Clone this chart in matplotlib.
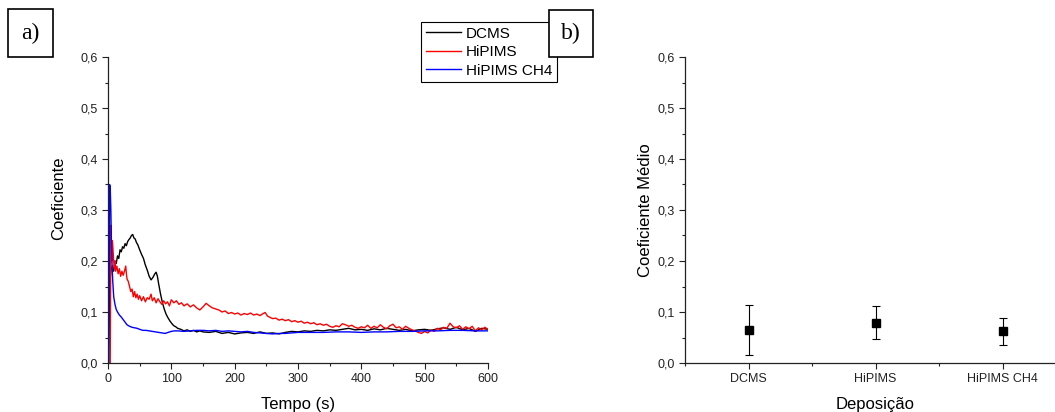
import matplotlib
matplotlib.use("Agg")
import matplotlib.pyplot as plt
from matplotlib.patches import Rectangle
from matplotlib.ticker import MultipleLocator, FuncFormatter

# --- data -------------------------------------------------------------------
dcms_t = [0, 3, 5, 7, 9, 11, 13, 15, 17, 19, 21, 23, 25, 27, 29, 31, 33, 35, 37,
          39, 41, 43, 45, 47, 50, 53, 56, 59, 62, 65, 68, 71, 74, 76, 78, 80, 83,
          86, 89, 92, 95, 98, 101, 104, 107, 110, 115, 120, 125, 130, 135, 140,
          145, 150, 160, 170, 180, 190, 200, 210, 220, 230, 240, 250, 260, 270,
          280, 290, 300, 310, 320, 330, 340, 350, 360, 370, 380, 390, 400, 410,
          420, 430, 440, 450, 460, 470, 480, 490, 500, 510, 520, 530, 540, 550,
          560, 570, 580, 590, 600]
dcms_v = [0.0, 0.16, 0.185, 0.19, 0.18, 0.2, 0.195, 0.21, 0.205, 0.222, 0.218,
          0.228, 0.225, 0.234, 0.23, 0.238, 0.242, 0.245, 0.25, 0.252, 0.245,
          0.243, 0.236, 0.232, 0.222, 0.213, 0.205, 0.192, 0.182, 0.17, 0.163,
          0.168, 0.175, 0.178, 0.17, 0.155, 0.135, 0.118, 0.105, 0.095, 0.088,
          0.082, 0.077, 0.073, 0.071, 0.068, 0.066, 0.063, 0.065, 0.062, 0.064,
          0.061, 0.063, 0.061, 0.06, 0.062, 0.058, 0.06, 0.057, 0.059, 0.06,
          0.058, 0.061, 0.058, 0.059, 0.057, 0.06, 0.062, 0.061, 0.063, 0.062,
          0.064, 0.063, 0.065, 0.064, 0.066, 0.068, 0.065, 0.066, 0.064, 0.067,
          0.065, 0.068, 0.066, 0.064, 0.066, 0.063, 0.065, 0.066, 0.064, 0.067,
          0.069, 0.066, 0.07, 0.065, 0.068, 0.062, 0.068, 0.066]

hipims_t = [3.5, 4.5, 6, 7, 8, 9, 10, 11, 12, 14, 16, 18, 20, 22, 24, 26, 28, 29,
            30, 32, 34, 36, 38, 40, 42, 44, 46, 48, 50, 53, 56, 59, 62, 65, 68,
            70, 73, 76, 79, 82, 85, 88, 91, 94, 97, 100, 104, 108, 112, 116, 120,
            125, 130, 135, 140, 145, 150, 155, 160, 165, 170, 175,
            180, 185, 190, 195, 200, 205, 210, 215, 220, 225, 230, 235, 240, 245,
            248, 252, 255, 260, 265, 270, 275, 280, 285, 290, 295, 300, 305, 310,
            315, 320, 325, 330, 335, 340, 345, 350, 355, 360, 365, 370, 375, 380,
            385, 390, 395, 400, 405, 410, 415, 420, 425, 430, 435, 440, 445, 450,
            455, 460, 465, 470, 475, 480, 485, 490, 495, 500, 505, 510, 515, 520,
            525, 530, 535, 540, 545, 550, 555, 560, 565, 570, 575, 580, 585, 590,
            595, 600]
hipims_v = [0.0, 0.27, 0.2, 0.24, 0.22, 0.2, 0.185, 0.2, 0.18, 0.19, 0.175, 0.185,
            0.17, 0.18, 0.172, 0.18, 0.19, 0.175, 0.165, 0.16, 0.15, 0.14, 0.145,
            0.13, 0.14, 0.128, 0.135, 0.125, 0.132, 0.122, 0.13, 0.12, 0.128,
            0.125, 0.135, 0.122, 0.128, 0.118, 0.126, 0.12, 0.115, 0.122, 0.116,
            0.12, 0.112, 0.124, 0.118, 0.122, 0.115, 0.118, 0.112, 0.116, 0.11,
            0.114, 0.108, 0.104, 0.11, 0.117, 0.112, 0.108, 0.106, 0.104,
            0.1, 0.102, 0.097, 0.099, 0.096, 0.098, 0.094, 0.097, 0.095, 0.098,
            0.094, 0.096, 0.093, 0.097, 0.099, 0.092, 0.09, 0.087, 0.088, 0.084,
            0.086, 0.083, 0.085, 0.081, 0.083, 0.08, 0.082, 0.078, 0.08, 0.077,
            0.079, 0.075, 0.077, 0.074, 0.076, 0.072, 0.07, 0.073, 0.071, 0.077,
            0.075, 0.072, 0.074, 0.07, 0.068, 0.071, 0.069, 0.074, 0.068, 0.072,
            0.069, 0.075, 0.07, 0.067, 0.073, 0.076, 0.069, 0.071, 0.066, 0.072,
            0.068, 0.065, 0.063, 0.06, 0.058, 0.062, 0.059, 0.065, 0.062, 0.068,
            0.065, 0.07, 0.068, 0.078, 0.071, 0.069, 0.073, 0.066, 0.071, 0.067,
            0.072, 0.063, 0.069, 0.065, 0.07, 0.066]

ch4_t = [1.5, 2.5, 3.5, 4.5, 5.5, 6.5, 7.5, 9, 11, 13, 15, 18, 21, 24, 27, 30,
         34, 38, 42, 46, 50, 55, 60, 65, 70, 75, 80, 85, 90, 95, 100, 105, 110,
         120, 130, 140, 150, 160, 170, 180, 190, 200, 210, 220, 230, 240, 250,
         260, 270, 280, 290, 300, 320, 340, 360, 380, 400, 420, 440, 460, 480,
         500, 520, 540, 560, 580, 600]
ch4_v = [0.0, 0.35, 0.345, 0.3, 0.23, 0.19, 0.16, 0.13, 0.115, 0.105, 0.1, 0.094,
         0.09, 0.085, 0.08, 0.075, 0.072, 0.07, 0.069, 0.068, 0.066, 0.064, 0.064,
         0.063, 0.062, 0.061, 0.06, 0.059, 0.058, 0.06, 0.062, 0.063, 0.063,
         0.062, 0.063, 0.064, 0.064, 0.063, 0.064, 0.062, 0.063, 0.062, 0.061,
         0.062, 0.06, 0.059, 0.058, 0.057, 0.058, 0.058, 0.059, 0.06, 0.06, 0.06,
         0.061, 0.061, 0.06, 0.061, 0.061, 0.062, 0.062, 0.063, 0.063, 0.064,
         0.064, 0.063, 0.063]

series_labels = ["DCMS", "HiPIMS", "HiPIMS CH4"]
series_colors = ["black", "red", "blue"]

depos = ["DCMS", "HiPIMS", "HiPIMS CH4"]
depos_mean = [0.064, 0.079, 0.062]
depos_err = [0.049, 0.032, 0.026]
# ---------------------------------------------------------------------------

plt.rcParams["font.family"] = ["Liberation Sans", "DejaVu Sans"]

W, H = 1055, 412
fig = plt.figure(figsize=(W / 100, H / 100), dpi=100)


def fx(px):
    return px / W


def fy(py):
    return 1 - py / H


comma = FuncFormatter(lambda v, _: f"{v:.1f}".replace(".", ","))


def style(ax):
    for s in ("top", "right"):
        ax.spines[s].set_visible(False)
    for s in ("left", "bottom"):
        ax.spines[s].set_linewidth(0.9)
        ax.spines[s].set_color("#222222")
    ax.tick_params(which="major", direction="out", length=4, width=0.8,
                   labelsize=9, colors="#222222", pad=3.5)
    ax.tick_params(which="minor", direction="out", length=2.5, width=0.8,
                   colors="#222222")
    ax.set_ylim(0, 0.6)
    ax.yaxis.set_major_locator(MultipleLocator(0.1))
    ax.yaxis.set_minor_locator(MultipleLocator(0.05))
    ax.yaxis.set_major_formatter(comma)


# panel a: coefficient vs time
axa = fig.add_axes([fx(108), fy(363), fx(488 - 108), (363 - 57) / H])
style(axa)
for t, v, lab, c in zip([dcms_t, hipims_t, ch4_t], [dcms_v, hipims_v, ch4_v],
                        series_labels, series_colors):
    axa.plot(t, v, color=c, lw=1.0, label=lab)
axa.set_xlim(0, 600)
axa.xaxis.set_major_locator(MultipleLocator(100))
axa.xaxis.set_minor_locator(MultipleLocator(50))
axa.set_xlabel("Tempo (s)", fontsize=12, labelpad=8)
axa.set_ylabel("Coeficiente", fontsize=12)
axa.yaxis.set_label_coords(-0.11, 0.54)

leg = fig.legend(loc="upper left", bbox_to_anchor=(fx(421), fy(22)),
                 bbox_transform=fig.transFigure, fontsize=11, frameon=True,
                 fancybox=False, edgecolor="black", framealpha=1,
                 borderpad=0.3, handlelength=2.3, handletextpad=0.35,
                 labelspacing=0.3, borderaxespad=0)
leg.get_frame().set_linewidth(0.8)
leg.set_zorder(5)

# panel b: mean coefficient per deposition (axes runs past the right edge)
axb = fig.add_axes([fx(685), fy(363), fx(1066 - 685), (363 - 57) / H])
style(axb)
xpos = list(range(1, len(depos) + 1))
axb.errorbar(xpos, depos_mean, yerr=depos_err, fmt="s", color="black",
             ms=6, elinewidth=0.8, capsize=3, capthick=0.8)
axb.set_xlim(0.5, 3.5)
axb.set_xticks(xpos)
axb.set_xticklabels(depos)
axb.xaxis.set_minor_locator(MultipleLocator(0.5))
axb.set_xlabel("Deposição", fontsize=12, labelpad=8)
axb.set_ylabel("Coeficiente Médio", fontsize=12, labelpad=3)

# panel tags
for tag, (x0, y0, x1, y1) in [("a)", (8, 9, 53, 57)), ("b)", (549, 10, 593, 57))]:
    fig.patches.append(Rectangle((fx(x0), fy(y1)), fx(x1 - x0), (y1 - y0) / H,
                                 transform=fig.transFigure, facecolor="white",
                                 edgecolor="black", lw=1.2, zorder=10))
    fig.text(fx((x0 + x1) / 2), fy((y0 + y1) / 2), tag, ha="center",
             va="center", fontsize=17, family=["Liberation Serif", "DejaVu Serif"],
             zorder=11)

fig.savefig("out.png", dpi=100)
